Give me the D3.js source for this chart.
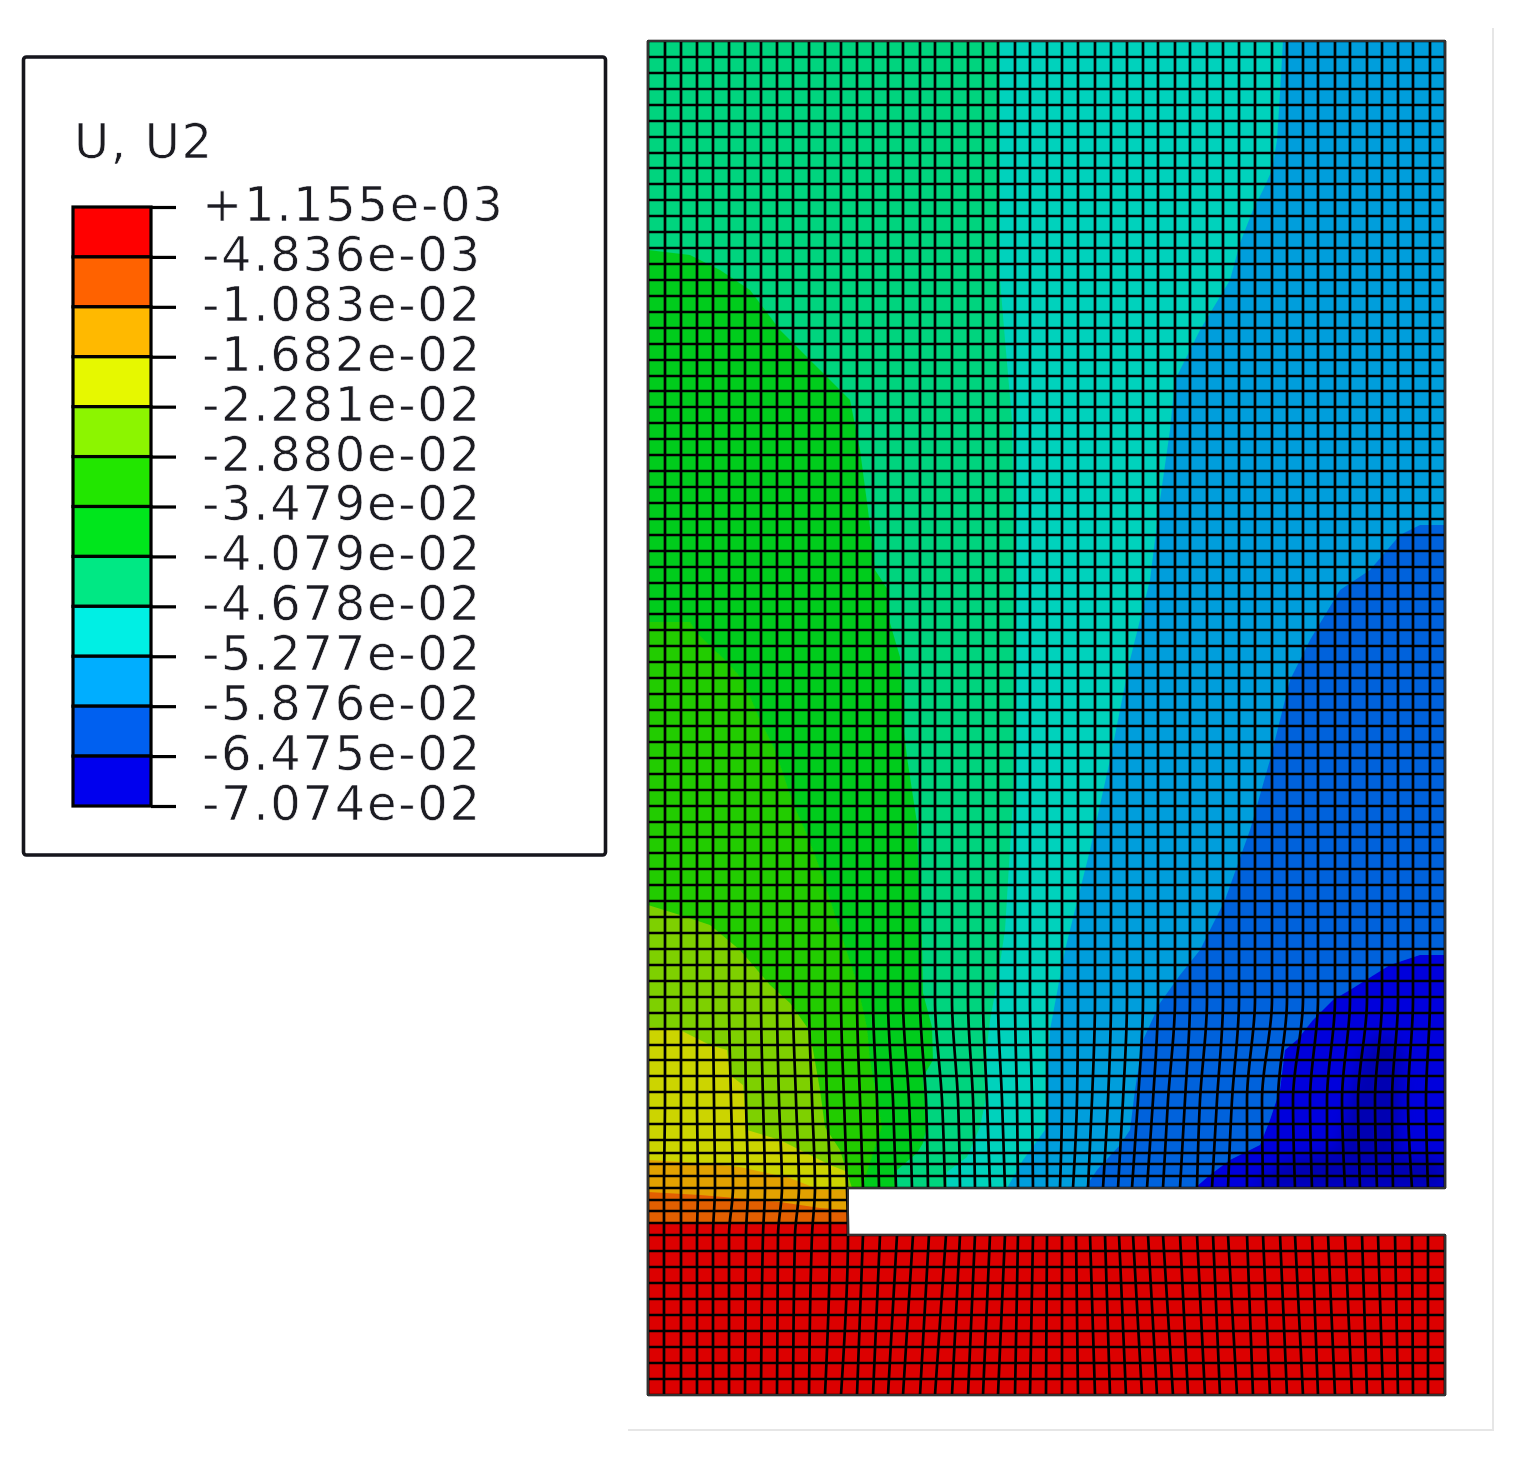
<!DOCTYPE html>
<html>
<head>
<meta charset="utf-8">
<script src="https://cdn.jsdelivr.net/npm/d3@7"></script>
<style>
    html, body { margin: 0; background: #fff; }
    text { font-family: "DejaVu Sans", sans-serif; fill: #1a1a22; }
</style>
</head>
<body>
<div id="chart"></div>
<script>
// Legend values, top to bottom
var legendLabels = ["+1.155e-03", "-4.836e-03", "-1.083e-02", "-1.682e-02", "-2.281e-02", "-2.880e-02", "-3.479e-02",
    "-4.079e-02", "-4.678e-02", "-5.277e-02", "-5.876e-02", "-6.475e-02", "-7.074e-02"];
var legendBands = ["band1", "band2", "band3", "band4", "band5", "band6", "band7", "band8", "band9", "band10", "band11", "band12"];
var legendColors = ["#ff0000", "#ff6200", "#ffb900", "#e6f800", "#8cf500", "#22e600", "#00e61e", "#00e884", "#00efe4", "#00aeff", "#0060f0", "#0000ee"];
// Same colour map, as it looks on the shaded mesh
var meshColors = {
    teal: "#00d47e", cyan: "#00d2bc", blue: "#009edc", darkBlue: "#0062dc", deepBlue: "#0000dc", deepest: "#0000a8",
    green: "#00cc1e", green2: "#22cc00", lime: "#7ed000", yellow: "#ccd400", amber: "#e2a200", orange: "#e25e00", red: "#dc0000"
};

// Model outline
var upperBlock = [[0, 1354], [797, 1354], [797, 207], [200, 207], [200, 160], [0, 160]];
var lowerBlock = [[0, 160], [797, 160], [797, 0], [0, 0]];
var partOutline = [[0, 1354], [797, 1354], [797, 207], [200, 207], [200, 160], [797, 160], [797, 0], [0, 0]];
var pictureEdge = [[845, 1367], [845, -35], [-20, -35]];

// Contour regions, painted in this order
var cyanRegion = [[352, 1354], [352, 1115], [357, 1055], [364, 975], [367, 795], [365, 595], [357, 465], [349, 412], [342, 375], [339, 348], [339, 302], [332, 268], [319, 238], [299, 223], [299, 207], [797, 207], [797, 1354]];
var blueRegion = [[635, 1354], [632, 1302], [629, 1255], [624, 1225], [615, 1205], [605, 1185], [592, 1152], [582, 1115], [552, 1065], [527, 1015], [522, 965], [512, 895], [502, 815], [482, 735], [462, 635], [442, 545], [417, 445], [402, 365], [399, 305], [397, 265], [375, 235], [359, 207], [797, 207], [797, 1354]];
var darkBlueRegion = [[797, 870], [772, 870], [752, 860], [722, 825], [692, 805], [662, 755], [642, 715], [622, 635], [602, 565], [577, 495], [552, 445], [532, 420], [512, 392], [495, 355], [487, 305], [482, 265], [472, 250], [449, 225], [437, 207], [797, 207]];
var deepBlueRegion = [[797, 440], [772, 440], [742, 430], [702, 405], [685, 395], [665, 375], [649, 355], [637, 345], [632, 305], [622, 275], [612, 250], [582, 235], [562, 220], [547, 207], [797, 207]];
var deepestPatch = [[640, 235], [690, 245], [715, 345], [735, 362], [755, 345], [750, 240], [797, 235], [797, 207], [600, 207]];
var greenRegion = [[0, 1145], [42, 1140], [72, 1125], [102, 1105], [132, 1065], [162, 1035], [202, 995], [212, 945], [220, 885], [227, 825], [240, 805], [242, 772], [252, 738], [255, 672], [259, 638], [269, 572], [271, 502], [274, 452], [275, 402], [284, 368], [285, 335], [275, 318], [279, 268], [275, 252], [269, 242], [249, 225], [249, 207], [0, 207]];
var green2Region = [[0, 773], [42, 773], [49, 762], [80, 732], [95, 715], [112, 675], [127, 645], [145, 592], [160, 558], [175, 518], [179, 505], [195, 455], [209, 412], [219, 368], [222, 335], [234, 268], [225, 242], [214, 207], [0, 207]];
var limeRegion = [[0, 490], [32, 480], [62, 470], [92, 445], [122, 410], [142, 392], [159, 368], [165, 345], [172, 305], [177, 268], [192, 245], [204, 207], [0, 207]];
var yellowRegion = [[0, 368], [32, 365], [62, 350], [79, 345], [82, 320], [95, 310], [99, 265], [132, 255], [182, 230], [200, 223], [200, 160], [0, 160]];
var amberRegion = [[0, 235], [52, 232], [92, 228], [142, 217], [172, 205], [200, 205], [200, 160], [0, 160]];
var orangeRegion = [[0, 203], [52, 200], [132, 193], [172, 187], [200, 185], [200, 160], [0, 160]];
var redRegion = [[0, 171], [200, 171], [200, 160], [0, 160]];

// Mesh rows, model height of each horizontal line
var rowsFull = [1354, 1338, 1322, 1306, 1290, 1274, 1258, 1242, 1227, 1211, 1195, 1179, 1163, 1147, 1131, 1115, 1099, 1083, 1067, 1051,
    1035, 1019, 1004, 988, 972, 956, 940, 924, 908, 892, 876, 860, 844, 828, 812, 796, 781, 765, 749, 733, 717, 701, 685, 669, 653, 637,
    621, 605, 589, 573, 558, 542, 526, 510, 494, 478, 462, 446, 430, 414, 398, 382, 366, 350, 335, 319, 303, 287, 271, 255, 242, 231, 219, 207];
var rowsNotch = [195, 184, 172];
var rowsLower = [160, 144, 128, 112, 96, 80, 64, 48, 32, 16, 0];

// Mesh columns, x of each vertical line at a given model height
var colsStraight = [0, 17, 33, 49, 65, 81, 97, 113, 129, 145, 161, 177, 193, 209, 225, 240, 255, 272, 287, 304, 320, 335, 350, 367, 382, 399,
    414, 430, 447, 463, 479, 495, 510, 527, 542, 559, 575, 591, 607, 624, 639, 655, 670, 687, 702, 719, 734, 750, 765, 782, 797];
var colsMid = [0, 17, 33, 49, 66, 83, 98, 115, 131, 148, 164, 179, 196, 212, 229, 245, 261, 278, 294, 310, 325, 339, 354, 369, 384, 399,
    414, 429, 444, 460, 475, 490, 505, 520, 537, 552, 569, 584, 599, 614, 630, 645, 662, 679, 694, 710, 727, 744, 760, 778, 797];
var colsNotch = [0, 16, 33, 50, 67, 85, 100, 117, 134, 151, 167, 182, 199, 215, 231, 248, 264, 280, 297, 312, 327, 342, 357, 370, 385, 399,
    412, 425, 440, 455, 470, 484, 499, 515, 532, 549, 564, 580, 599, 615, 630, 647, 664, 679, 697, 712, 729, 745, 764, 780, 797];
var colsLowerTop = [0, 16, 33, 49, 65, 81, 98, 115, 130, 147, 164, 182, 200, 215, 232, 249, 265, 281, 298, 312, 327, 342, 357, 370, 385, 399,
    414, 428, 442, 457, 471, 485, 500, 515, 532, 549, 565, 580, 599, 615, 632, 647, 664, 680, 697, 714, 730, 747, 764, 780, 797];
var colsBottom = [0, 16, 33, 49, 65, 81, 97, 113, 129, 145, 161, 177, 193, 209, 225, 240, 255, 272, 287, 304, 320, 335, 350, 367, 382, 398,
    414, 430, 447, 462, 478, 494, 509, 525, 540, 557, 572, 589, 605, 622, 639, 655, 670, 687, 704, 719, 735, 750, 765, 780, 797];
var colHeights = [1354, 395, 295, 207, 160, 0];

var width = 1520, height = 1472;

var svg = d3.select("#chart").append("svg")
    .attr("width", width)
    .attr("height", height)
    .style("display", "block");

var defs = svg.append("defs");
defs.append("filter").attr("id", "soft")
    .append("feGaussianBlur").attr("stdDeviation", 0.75);
defs.append("filter").attr("id", "softText")
    .append("feGaussianBlur").attr("stdDeviation", 0.45);
defs.append("filter").attr("id", "patch").attr("x", "-20%").attr("y", "-20%").attr("width", "140%").attr("height", "140%")
    .append("feGaussianBlur").attr("stdDeviation", 7);

// create scale objects
var xScale = d3.scaleLinear().domain([0, 797]).range([648, 1445]);
var yScale = d3.scaleLinear().domain([0, 1354]).range([1395, 41]);
var polyLine = d3.line()
    .x(function(d) { return xScale(d[0]); })
    .y(function(d) { return yScale(d[1]); });
var polygon = function(pts) { return polyLine(pts) + "Z"; };

// faint frame left over at the edge of the picture
svg.append("path")
    .attr("d", polyLine(pictureEdge))
    .attr("fill", "none")
    .attr("stroke", "#e6e6e6")
    .attr("stroke-width", 2);

// contour fill
defs.append("clipPath").attr("id", "upperClip")
    .append("path").attr("d", polygon(upperBlock));

var contour = svg.append("g").attr("filter", "url(#soft)");
contour.append("path").attr("d", polygon(lowerBlock)).attr("fill", meshColors.red);
var upper = contour.append("g").attr("clip-path", "url(#upperClip)");
upper.append("path").attr("d", polygon(upperBlock)).attr("fill", meshColors.teal);

var regions = [
    [cyanRegion, meshColors.cyan], [blueRegion, meshColors.blue], [darkBlueRegion, meshColors.darkBlue],
    [deepBlueRegion, meshColors.deepBlue], [deepestPatch, meshColors.deepest], [greenRegion, meshColors.green],
    [green2Region, meshColors.green2], [limeRegion, meshColors.lime], [yellowRegion, meshColors.yellow],
    [amberRegion, meshColors.amber], [orangeRegion, meshColors.orange], [redRegion, meshColors.red]
];
upper.selectAll("path.region")
    .data(regions)
    .enter()
    .append("path")
    .attr("class", "region")
    .attr("d", function(d) { return polygon(d[0]); })
    .attr("fill", function(d) { return d[1]; })
    .attr("fill-opacity", function(d) { return d[0] === deepestPatch ? 0.8 : 1; })
    .attr("filter", function(d) { return d[0] === deepestPatch ? "url(#patch)" : null; });

// mesh lines
var mesh = svg.append("g")
    .attr("fill", "none")
    .attr("stroke", "#000")
    .attr("stroke-width", 2.7)
    .attr("filter", "url(#soft)");

function addRows(rows, xEnd) {
    mesh.selectAll(null)
        .data(rows)
        .enter()
        .append("line")
        .attr("x1", xScale(0))
        .attr("x2", xScale(xEnd))
        .attr("y1", function(d) { return yScale(d); })
        .attr("y2", function(d) { return yScale(d); });
}
addRows(rowsFull, 797);
addRows(rowsNotch, 200);
addRows(rowsLower, 797);

var colLine = d3.line()
    .x(function(d) { return xScale(d[0]); })
    .y(function(d) { return yScale(d[1]); })
    .curve(d3.curveMonotoneY);

mesh.selectAll("path.col")
    .data(colsStraight)
    .enter()
    .append("path")
    .attr("class", "col")
    .attr("d", function(d, i) {
        var upperPts = [[d, colHeights[0]], [d, colHeights[1]], [colsMid[i], colHeights[2]], [colsNotch[i], colHeights[3]]];
        var lowerPts = [[colsLowerTop[i], colHeights[4]], [colsBottom[i], colHeights[5]]];
        // columns left of the notch run straight through
        if (i <= 12) return colLine(upperPts.concat(lowerPts));
        return colLine(upperPts) + colLine(lowerPts);
    });

// outline of the part
svg.append("path")
    .attr("d", polygon(partOutline))
    .attr("fill", "none")
    .attr("stroke", "#333")
    .attr("stroke-width", 2)
    .attr("filter", "url(#soft)");

// Legend
var legend = svg.append("g").attr("filter", "url(#softText)");
legend.append("rect")
    .attr("x", 23.5).attr("y", 57)
    .attr("width", 582).attr("height", 798)
    .attr("rx", 3)
    .attr("fill", "none")
    .attr("stroke", "#16161c")
    .attr("stroke-width", 3.6);

legend.append("text")
    .attr("x", 74)
    .attr("y", 158)
    .attr("letter-spacing", 1.7)
    .style("font-size", "48px")
    .style("stroke", "#fff")
    .style("stroke-width", 0.7)
    .text("U, U2");

var bandScale = d3.scaleBand().domain(legendBands).range([207, 806]);
var tickScale = d3.scalePoint().domain(legendLabels).range([207, 806]);

legend.selectAll("rect.swatch")
    .data(legendBands)
    .enter()
    .append("rect")
    .attr("class", "swatch")
    .attr("x", 73)
    .attr("y", function(d) { return bandScale(d); })
    .attr("width", 78)
    .attr("height", bandScale.bandwidth())
    .attr("fill", function(d, i) { return legendColors[i]; })
    .attr("stroke", "#000")
    .attr("stroke-width", 3.2);

var legendAxis = d3.axisRight(tickScale).tickSize(25).tickPadding(26);
var gLegend = legend.append("g")
    .attr("transform", "translate(151,0)")
    .call(legendAxis);
gLegend.select(".domain").remove();
gLegend.selectAll(".tick line").attr("stroke", "#000").attr("stroke-width", 3.2);
gLegend.selectAll(".tick text")
    .attr("dy", "0.28em")
    .attr("letter-spacing", 1.7)
    .style("font-family", '"DejaVu Sans", sans-serif')
    .style("font-size", "48px")
    .style("stroke", "#fff")
    .style("stroke-width", 0.7)
    .attr("fill", "#1a1a22");
</script>
</body>
</html>
